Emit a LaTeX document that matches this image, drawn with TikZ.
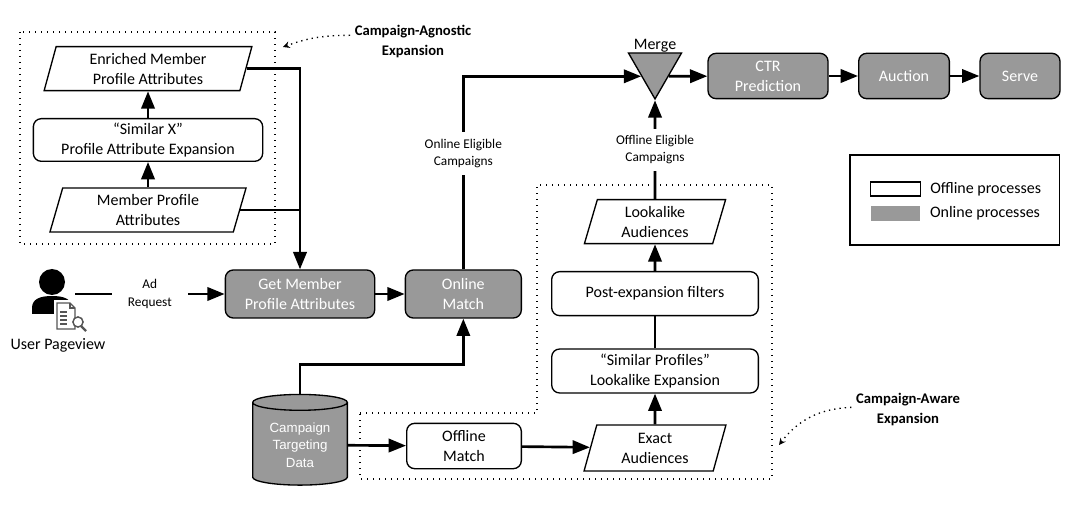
\documentclass[tikz,border=0pt]{standalone}
\usepackage{fontspec}
\setmainfont{Carlito}
\newfontfamily\cylfont{Liberation Sans}
\usepackage{tikz}
\usetikzlibrary{arrows.meta,shapes.geometric,positioning,calc}
\definecolor{olgray}{RGB}{153,153,153}
\definecolor{icongray}{RGB}{85,85,85}
\tikzstyle{flow} = [line width=2pt,-{Triangle[length=13pt,width=10pt]}]
\tikzstyle{plainflow} = [line width=2pt]
\tikzstyle{offbox} = [rectangle, rounded corners=6pt, draw=black, fill=white, line width=1pt, align=center, inner sep=2pt, font=\fontsize{12}{15}\selectfont]
\tikzstyle{onbox} = [offbox, fill=olgray, text=white]
\tikzstyle{audbox} = [trapezium, trapezium left angle=77, trapezium right angle=103, trapezium stretches=true, draw=black, fill=white, line width=1pt, align=center, inner sep=1pt, font=\fontsize{12}{15}\selectfont]
\tikzstyle{datastore} = [cylinder, shape border rotate=90, aspect=0.25, draw=black, fill=olgray, line width=1pt, text=white, align=center, inner sep=1pt, minimum width=71pt, minimum height=68pt, font=\cylfont\fontsize{10}{13}\selectfont]
\tikzstyle{mergetri} = [regular polygon, regular polygon sides=3, shape border rotate=180, draw=black, fill=olgray, line width=1pt, minimum size=46pt, inner sep=0pt]
\tikzstyle{flowlabel} = [fill=white, align=center, inner sep=2pt, font=\fontsize{10}{13}\selectfont]
\tikzstyle{grouplabel} = [align=center, font=\fontsize{11}{15}\selectfont\bfseries]
\tikzstyle{groupbox} = [line width=1.3pt, dash pattern=on 1pt off 3.5pt]
\tikzstyle{note} = [line width=1pt, dash pattern=on 1pt off 3pt, -{Stealth[length=5pt,width=5pt]}]
\tikzstyle{keytext} = [inner sep=0pt, font=\fontsize{12}{15}\selectfont]

\begin{document}
\begin{tikzpicture}[x=0.75pt,y=-0.75pt,node distance=22pt]
\useasboundingbox (0,0) rectangle (1077,509);
% dotted groups
\draw[groupbox] (20,32) rectangle (275,244);
\draw[groupbox] (360,413) -- (537,413) -- (537,185) -- (772,185) -- (772,479) -- (360,479) -- cycle;

% campaign-agnostic expansion
\node[audbox, minimum width=148pt, minimum height=33pt] (memprof) at (148,210) {Member Profile\\Attributes};
\node[offbox, minimum width=172pt, minimum height=32pt, above=19pt of memprof] (simx) {“Similar X”\\Profile Attribute Expansion};
\node[audbox, minimum width=156pt, minimum height=33pt, above=20pt of simx] (enriched) {Enriched Member\\Profile Attributes};

% user
\coordinate (user) at (75,294);
\fill (52,282) circle (9.75pt);
\fill (32,314) -- (32,308) .. controls (32,299) and (40,296) .. (52,296) .. controls (64,296) and (72,299) .. (72,308) -- (72,314) -- cycle;
\fill[white] (54,300) rectangle (88,334);
\draw[icongray, fill=white, line width=0.9pt] (57,303) -- (70,303) -- (75,308) -- (75,329) -- (57,329) -- cycle;
\draw[icongray, line width=0.9pt] (70,303) -- (70,308) -- (75,308);
\foreach \ly in {312,316,320,324}
  \draw[icongray, line width=0.9pt] (60,\ly) -- (67,\ly);
\draw[icongray, fill=white, line width=1.1pt] (78,322) circle (3.8pt);
\draw[icongray, line width=1.6pt] (81,326) -- (86,331);
\node[font=\fontsize{12}{14}\selectfont] (pageview) at (58,345) {User Pageview};

% online path
\node[onbox, minimum width=112pt, minimum height=36pt] (getmem) at (300,294) {Get Member\\Profile Attributes};
\node[onbox, minimum width=87pt, minimum height=36pt, right=22pt of getmem] (onmatch) {Online\\Match};
\node[datastore] (targeting) at (300,445) {Campaign\\Targeting\\Data};
\node[offbox, minimum width=86pt, minimum height=34pt] (offmatch) at (464,446) {Offline\\Match};

% campaign-aware expansion
\node[audbox, minimum width=107pt, minimum height=34.5pt] (exact) at (655,448) {Exact\\Audiences};
\node[offbox, minimum width=155pt, minimum height=33pt, above=23pt of exact] (simprof) {“Similar Profiles”\\Lookalike Expansion};
\node[offbox, minimum width=155pt, minimum height=33pt, above=24pt of simprof] (postfilt) {Post-expansion filters};
\node[audbox, minimum width=106pt, minimum height=33pt, above=20pt of postfilt] (lookalike) {Lookalike\\Audiences};

% serving
\node[mergetri, label={[font=\fontsize{12}{14}\selectfont, label distance=-1pt, inner sep=1pt]above:Merge}] (merge) at (655,68.3) {};
\node[onbox, minimum width=90pt, minimum height=34pt] (ctr) at (768,76) {CTR\\Prediction};
\node[onbox, minimum width=68pt, minimum height=34pt, right=22pt of ctr] (auction) {Auction};
\node[onbox, minimum width=60pt, minimum height=34pt, right=22pt of auction] (serve) {Serve};

% legend
\node[draw, line width=1pt, minimum width=157pt, minimum height=67.5pt] (legend) at (954.5,200) {};
\node[draw, line width=0.8pt, fill=white, minimum width=37pt, minimum height=10.5pt, inner sep=0pt] (offkey) at (895.5,189) {};
\node[fill=olgray, minimum width=37pt, minimum height=11pt, inner sep=0pt] (onkey) at (895.5,213.5) {};
\node[keytext, right=7pt of offkey] (offtext) {Offline processes};
\node[keytext, right=7pt of onkey] (ontext) {Online processes};

% group labels
\node[grouplabel] (agnosticlbl) at (413,42) {Campaign-Agnostic\\Expansion};
\node[grouplabel] (awarelbl) at (908,410) {Campaign-Aware\\Expansion};
\coordinate (agnostictip) at (283,47);
\coordinate (awaretip) at (779,445);
\draw[note] ([yshift=5pt]agnosticlbl.west) to[bend right=10] (agnostictip);
\draw[note] ([yshift=2pt]awarelbl.west) to[bend right=25] (awaretip);

% flows
\draw[flow] (memprof.north) -- (simx.south);
\draw[flow] (simx.north) -- (enriched.south);
\draw[flow] (enriched.east) -| (getmem.north);
\draw[plainflow] (memprof.east) -- (memprof.east -| getmem.north);
\draw[flow] (user) -- node[flowlabel, inner xsep=12pt] {Ad\\Request} (getmem.west);
\draw[flow] (getmem) -- (onmatch);
\draw[flow] (onmatch.north) |- node[flowlabel, pos=0.3, inner ysep=5pt] {Online Eligible\\Campaigns} (merge.side 3);
\draw[flow] (targeting.north) -- ++(0,-29) -| (onmatch.south);
\draw[flow] (targeting) -- (offmatch);
\draw[flow] (offmatch) -- (exact);
\draw[flow] (exact) -- (simprof);
\draw[plainflow] (simprof) -- (postfilt);
\draw[flow] (postfilt) -- (lookalike);
\draw[flow] (lookalike) -- node[flowlabel, inner ysep=5pt] {Offline Eligible\\Campaigns} (merge.corner 1);
\draw[flow] (merge.side 1) -- (ctr);
\draw[flow] (ctr) -- (auction);
\draw[flow] (auction) -- (serve);
\end{tikzpicture}
\end{document}
